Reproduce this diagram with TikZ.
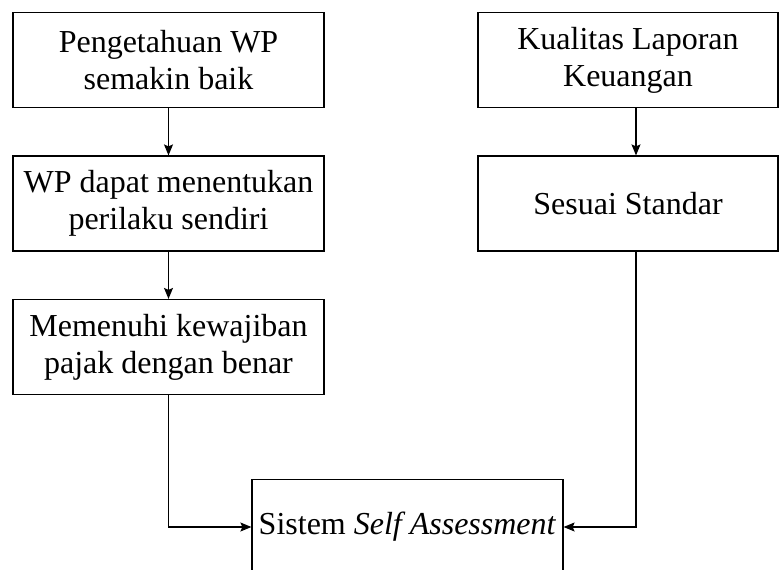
\documentclass[tikz,border=0pt]{standalone}
\usepackage{fontspec}
\setmainfont{Liberation Serif}
\usetikzlibrary{positioning,arrows.meta}

\tikzset{
  kotak/.style={draw, line width=1.2pt, minimum width=311pt, minimum height=95pt,
    align=center, inner sep=0pt, font=\fontsize{32}{37}\selectfont},
  kotakkanan/.style={kotak, minimum width=300pt},
  panah/.style={-{Stealth[length=11pt,width=9pt,inset=2pt]}, line width=1.1pt}
}

\begin{document}
\begin{tikzpicture}[x=1pt,y=1pt,node distance=143.5pt,on grid]
    \clip (0,0) rectangle (779,-570);
    \useasboundingbox (0,0) rectangle (779,-570);
    \node[kotak] (pengetahuan) at (168.5,-60) {Pengetahuan WP\\semakin baik};
    \node[kotak] (perilaku) [below=of pengetahuan] {WP dapat menentukan\\perilaku sendiri};
    \node[kotak] (kewajiban) [below=of perilaku] {Memenuhi kewajiban\\pajak dengan benar};
    \node[kotakkanan] (kualitas) at (628,-60) {Kualitas Laporan\\Keuangan};
    \node[kotakkanan] (standar) [below=of kualitas] {Sesuai Standar};
    \node[kotak] (sistem) at (407.5,-527) {Sistem \textit{Self Assessment}};
    \draw[panah] (pengetahuan) -- (perilaku);
    \draw[panah] (perilaku) -- (kewajiban);
    \draw[panah] (kewajiban.south) |- (sistem.west);
    \draw[panah] ([xshift=8pt]kualitas.south) -- ([xshift=8pt]standar.north);
    \draw[panah] ([xshift=8pt]standar.south) |- (sistem.east);
\end{tikzpicture}
\end{document}
